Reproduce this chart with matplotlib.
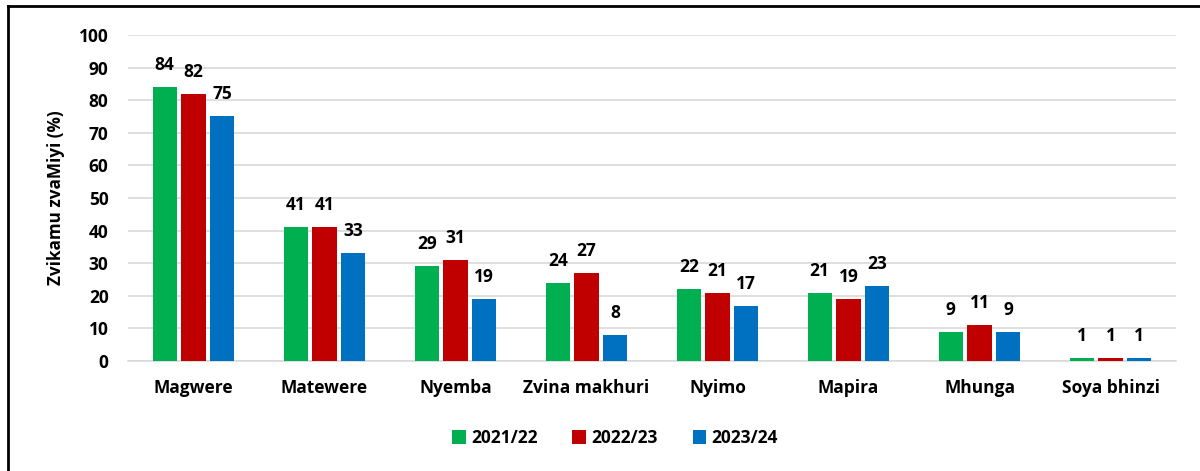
"""
Zvikamu zvaMiyi - grouped bar chart
"""
import numpy as np
import matplotlib.pyplot as plt
from matplotlib.lines import Line2D

categories = ['Magwere', 'Matewere', 'Nyemba', 'Zvina makhuri',
              'Nyimo', 'Mapira', 'Mhunga', 'Soya bhinzi']
series_names = ['2021/22', '2022/23', '2023/24']
vals_2122 = [84, 41, 29, 24, 22, 21, 9, 1]
vals_2223 = [82, 41, 31, 27, 21, 19, 11, 1]
vals_2324 = [75, 33, 19, 8, 17, 23, 9, 1]
colors = ['#00B050', '#C00000', '#0070C0']

plt.rcParams['font.family'] = ['Open Sans', 'DejaVu Sans']

fig = plt.figure(figsize=(12, 4.71), dpi=100)
ax = fig.add_axes([128/1200, 1 - 361/471, 1048/1200, (361 - 35)/471])

x = np.arange(len(categories))
width = 0.185
step = 0.22
for i, (vals, name) in enumerate(zip([vals_2122, vals_2223, vals_2324], series_names)):
    bars = ax.bar(x + (i - 1) * step, vals, width, color=colors[i], label=name, zorder=3)
    for b, v in zip(bars, vals):
        ax.text(b.get_x() + b.get_width() / 2, v + 4, str(v), ha='center', va='bottom',
                fontsize=12.5, fontweight='bold', color='black')

ax.set_xlim(-0.5, len(categories) - 0.5)
ax.set_ylim(0, 100)
ax.set_yticks(range(0, 101, 10))
ax.yaxis.grid(True, color='#d9d9d9', linewidth=1.2, zorder=0)
ax.set_xticks(x)
ax.set_xticklabels(categories, fontsize=12.5, fontweight='bold')
for lbl in ax.get_yticklabels():
    lbl.set_fontsize(12.5)
    lbl.set_fontweight('bold')
ax.tick_params(axis='both', length=0)
ax.tick_params(axis='x', pad=13)
ax.tick_params(axis='y', pad=14)
for s in ['top', 'right', 'left']:
    ax.spines[s].set_visible(False)
ax.spines['bottom'].set_color('#d9d9d9')
ax.spines['bottom'].set_linewidth(1.2)
ax.set_ylabel('Zvikamu zvaMiyi (%)', fontsize=12.3, fontweight='bold', labelpad=10)

leg = fig.legend(loc='center', bbox_to_anchor=(615/1200, 1 - 438/471), ncol=3,
                 frameon=False, handlelength=0.8, handleheight=0.8, handletextpad=0.3,
                 columnspacing=2.0, prop={'size': 12.5, 'weight': 'bold'})

# outer frame (left and top only visible)
fig.add_artist(Line2D([7.5/1200, 7.5/1200], [0, 1 - 6/471], color='black', linewidth=2))
fig.add_artist(Line2D([7.5/1200, 1], [1 - 6/471, 1 - 6/471], color='black', linewidth=2))

fig.savefig('out.png', dpi=100)
